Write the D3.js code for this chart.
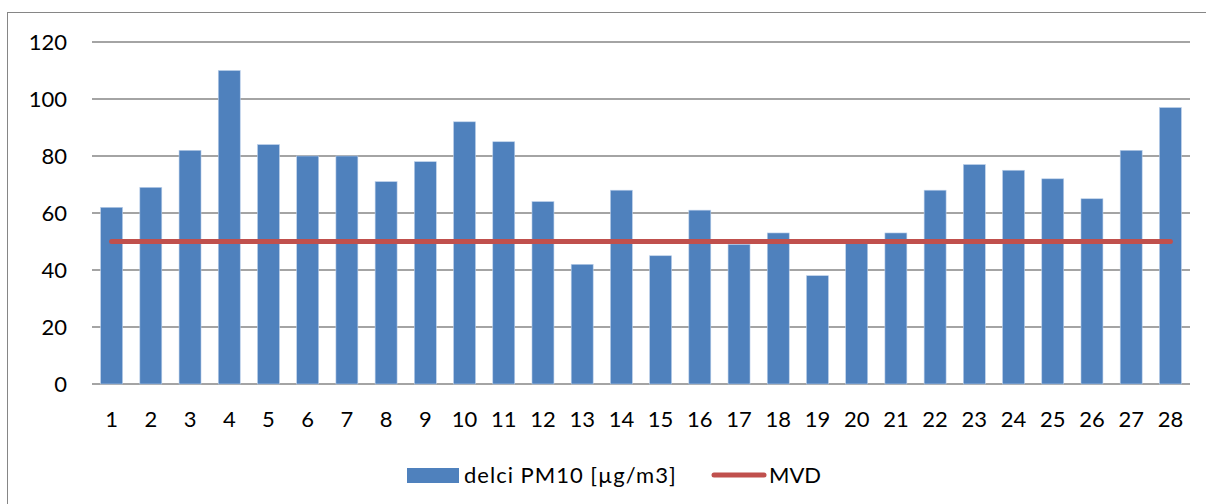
<!DOCTYPE html>
<html>
<head>
<meta charset="utf-8">
<script src="https://cdn.jsdelivr.net/npm/d3@7"></script>
<style>
  body { margin: 0; background: #fff; }
  text { font-family: Lato, "Open Sans", sans-serif; fill: #000; }
</style>
</head>
<body>
<script>

var days = d3.range(1, 29).map(String);
var pm10 = [62, 69, 82, 110, 84, 80, 80, 71, 78, 92, 85, 64, 42, 68,
            45, 61, 49, 53, 38, 50, 53, 68, 77, 75, 72, 65, 82, 97];
var mvd = days.map(function() { return 50; });
var yTicks = [0, 20, 40, 60, 80, 100, 120];
var seriesNames = ["delci PM10 [µg/m3]", "MVD"];

var width = 1206, height = 504;
var plot = {left: 92, right: 1190, top: 42, bottom: 384};

var svg = d3.select("body").append("svg")
    .attr("width", width)
    .attr("height", height);

// outer frame (right/bottom edges fall outside the picture)
svg.append("rect")
    .attr("x", 7.5).attr("y", 12.5)
    .attr("width", 1205).attr("height", 500)
    .attr("fill", "none")
    .attr("stroke", "#868686")
    .attr("stroke-width", 1);

var xScale = d3.scaleBand().domain(days).range([plot.left, plot.right]).paddingInner(0.44).paddingOuter(0.22);
var yScale = d3.scaleLinear().domain([0, 120]).range([plot.bottom, plot.top]);

// gridlines
svg.append("g").selectAll("line")
    .data(yTicks)
    .enter().append("line")
    .attr("x1", plot.left).attr("x2", plot.right)
    .attr("y1", function(d) { return yScale(d); })
    .attr("y2", function(d) { return yScale(d); })
    .attr("stroke", "#868686")
    .attr("stroke-width", 1.5);

// y labels
var y_axis = d3.axisLeft(yScale).tickValues(yTicks).tickSize(0).tickPadding(0);
var yg = svg.append("g")
    .attr("transform", "translate(" + 67 + ",0)")
    .call(y_axis);
yg.select(".domain").remove();
yg.selectAll("text").attr("font-size", "22px").attr("font-family", "Lato, sans-serif").attr("fill", "#000");

// bars
svg.append("g").selectAll("rect")
    .data(pm10)
    .enter().append("rect")
    .attr("x", function(d, i) { return xScale(days[i]); })
    .attr("y", function(d) { return yScale(d); })
    .attr("width", xScale.bandwidth())
    .attr("height", function(d) { return yScale(0) - yScale(d); })
    .attr("fill", "#4F81BD")
    .attr("stroke", "#bcd0ea")
    .attr("stroke-width", 0.6);

// x labels
var x_axis = d3.axisBottom(xScale).tickSize(0).tickPadding(0);
var xg = svg.append("g")
    .attr("transform", "translate(0," + plot.bottom + ")")
    .call(x_axis);
xg.select(".domain").remove();
xg.selectAll("text")
    .attr("y", 43)
    .attr("dy", null)
    .attr("font-size", "22px").attr("font-family", "Lato, sans-serif").attr("fill", "#000");

// MVD line
var line = d3.line()
    .x(function(d, i) { return xScale(days[i]) + xScale.bandwidth() / 2; })
    .y(function(d) { return yScale(d); });

svg.append("path")
    .datum(mvd)
    .attr("d", line)
    .attr("fill", "none")
    .attr("stroke", "#C0504D")
    .attr("stroke-width", 5)
    .attr("stroke-linecap", "round");

// legend
var legend = svg.append("g");
legend.append("rect")
    .attr("x", 407).attr("y", 468)
    .attr("width", 52).attr("height", 15)
    .attr("fill", "#4F81BD");
legend.append("text")
    .attr("x", 464).attr("y", 483)
    .attr("font-size", "22px")
    .attr("letter-spacing", "1px")
    .text(seriesNames[0]);
legend.append("line")
    .attr("x1", 714).attr("x2", 764)
    .attr("y1", 475).attr("y2", 475)
    .attr("stroke", "#C0504D")
    .attr("stroke-width", 5)
    .attr("stroke-linecap", "round");
legend.append("text")
    .attr("x", 769).attr("y", 483)
    .attr("font-size", "22px")
    .text(seriesNames[1]);

</script>
</body>
</html>
